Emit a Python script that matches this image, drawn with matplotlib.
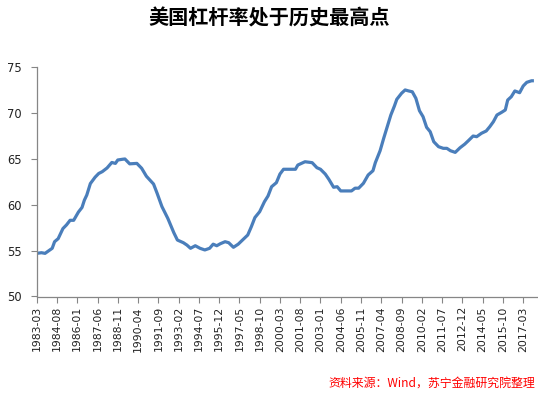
import matplotlib
matplotlib.use("Agg")
import matplotlib.pyplot as plt

plt.rcParams['font.family'] = ['DejaVu Sans', 'Noto Sans CJK SC']

title = "美国杠杆率处于历史最高点"
source = "资料来源：Wind，苏宁金融研究院整理"

dates = [
    "1983-03", "1983-07", "1983-10", "1984-04", "1984-06", "1984-09", "1985-01", "1985-04",
    "1985-07", "1985-10", "1986-02", "1986-05", "1986-07", "1986-09", "1986-12", "1987-04",
    "1987-07", "1987-10", "1988-02", "1988-06", "1988-09", "1988-11", "1989-03", "1989-05",
    "1989-09", "1990-03", "1990-07", "1990-11", "1991-05", "1991-08", "1991-12", "1992-05",
    "1992-10", "1993-01", "1993-06", "1993-09", "1993-12", "1994-04", "1994-08", "1994-12",
    "1995-04", "1995-07", "1995-10", "1996-01", "1996-05", "1996-08", "1996-12", "1997-04",
    "1997-08", "1997-12", "1998-03", "1998-06", "1998-10", "1999-02", "1999-05", "1999-08",
    "1999-12", "2000-03", "2000-06", "2000-11", "2001-04", "2001-06", "2001-12", "2002-06",
    "2002-10", "2003-01", "2003-05", "2003-08", "2003-12", "2004-03", "2004-06", "2004-09",
    "2005-03", "2005-06", "2005-09", "2006-01", "2006-05", "2006-09", "2006-11", "2007-03",
    "2007-06", "2007-09", "2007-12", "2008-03", "2008-05", "2008-09", "2008-12", "2009-03",
    "2009-06", "2009-09", "2009-12", "2010-03", "2010-06", "2010-09", "2010-12", "2011-04",
    "2011-08", "2011-11", "2012-02", "2012-06", "2012-10", "2013-02", "2013-05", "2013-09",
    "2013-12", "2014-04", "2014-08", "2014-11", "2015-02", "2015-05", "2015-09", "2015-12",
    "2016-02", "2016-05", "2016-08", "2016-12", "2017-03", "2017-06", "2017-10", "2017-12",
]
leverage = [
    54.70, 54.77, 54.70, 55.25, 55.97, 56.30, 57.40, 57.80,
    58.30, 58.30, 59.20, 59.70, 60.50, 61.05, 62.30, 63.00,
    63.40, 63.60, 64.00, 64.60, 64.50, 64.87, 64.95, 64.98,
    64.45, 64.50, 63.97, 63.10, 62.25, 61.24, 59.80, 58.50,
    56.95, 56.15, 55.86, 55.60, 55.25, 55.53, 55.25, 55.07,
    55.25, 55.70, 55.53, 55.75, 55.97, 55.86, 55.36, 55.70,
    56.20, 56.70, 57.60, 58.60, 59.24, 60.33, 60.95, 61.96,
    62.40, 63.34, 63.86, 63.86, 63.86, 64.32, 64.68, 64.58,
    64.03, 63.86, 63.34, 62.77, 61.90, 61.96, 61.50, 61.50,
    61.50, 61.80, 61.80, 62.33, 63.24, 63.70, 64.58, 65.88,
    67.23, 68.50, 69.77, 70.75, 71.48, 72.14, 72.50, 72.39,
    72.30, 71.59, 70.24, 69.59, 68.43, 67.95, 66.86, 66.32,
    66.14, 66.14, 65.88, 65.70, 66.20, 66.60, 66.97, 67.48,
    67.41, 67.78, 68.03, 68.50, 69.04, 69.77, 70.07, 70.32,
    71.40, 71.76, 72.39, 72.20, 72.93, 73.33, 73.50, 73.50,
]
tick_labels = [
    "1983-03", "1984-08", "1986-01", "1987-06", "1988-11", "1990-04", "1991-09",
    "1993-02", "1994-07", "1995-12", "1997-05", "1998-10", "2000-03", "2001-08",
    "2003-01", "2004-06", "2005-11", "2007-04", "2008-09", "2010-02", "2011-07",
    "2012-12", "2014-05", "2015-10", "2017-03",
]
axis_end = "2018-03"
y_ticks = [50, 55, 60, 65, 70, 75]


def month_index(s):
    y, m = s.split("-")
    return (int(y) - 1983) * 12 + int(m) - 3


x = [month_index(d) for d in dates]
tx = [month_index(d) for d in tick_labels]

fig = plt.figure(figsize=(5.38, 3.96), dpi=100)
ax = fig.add_axes([36.7 / 538, 1 - 296.5 / 396, (537.5 - 36.7) / 538, (296.5 - 67) / 396])

ax.plot(x, leverage, color="#4A7EBB", linewidth=2.3, solid_joinstyle="round", solid_capstyle="butt")

ax.set_xlim(0, month_index(axis_end))
ax.set_ylim(50, 75)
ax.set_yticks(y_ticks)
ax.set_xticks(tx)
ax.set_xticklabels(tick_labels, rotation=90, fontsize=7.8, color="#222222")
ax.tick_params(axis="y", labelsize=8.3, colors="#222222", length=4, width=0.8, pad=7, color="#868686")
ax.tick_params(axis="x", length=4, width=0.8, pad=3, color="#868686")

for side in ("top", "right"):
    ax.spines[side].set_visible(False)
for side in ("left", "bottom"):
    ax.spines[side].set_color("#868686")
    ax.spines[side].set_linewidth(0.9)

fig.text(0.5, 1 - 18 / 396, title, ha="center", va="center", fontsize=14.5, fontweight="bold",
         family=["Noto Sans CJK SC", "DejaVu Sans"], color="#000000")
fig.text(535 / 538, 1 - 383 / 396, source, ha="right", va="center", fontsize=8.6, style="italic",
         family=["Noto Sans CJK SC", "DejaVu Sans"], color="#FF0000")

fig.savefig("out.png", dpi=100)
